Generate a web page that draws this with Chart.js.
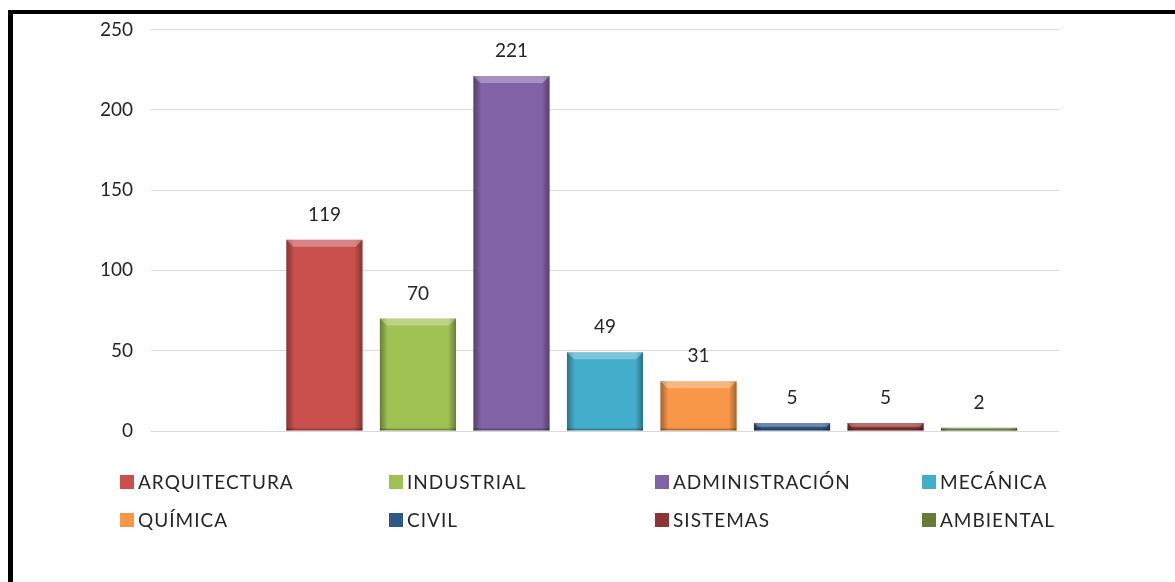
<!DOCTYPE html>
<html>
<head>
<meta charset="utf-8">
<script src="https://cdn.jsdelivr.net/npm/chart.js@4/dist/chart.umd.min.js"></script>
<style>
  html, body { margin: 0; padding: 0; background: #fff; }
  #wrap { position: relative; width: 1175px; height: 582px; overflow: hidden; }
  #frame { position: absolute; left: 8px; top: 10px; width: 1300px; height: 700px;
           border-top: 4px solid #000; border-left: 5px solid #000; box-sizing: border-box; }
  canvas { position: absolute; left: 0; top: 0; }
  .lg { position: absolute; font-family: Lato, "Open Sans", sans-serif; font-size: 19px;
        letter-spacing: 1px; color: #262626; white-space: nowrap; line-height: 20px; }
  .lg i { position: absolute; left: 0; top: 3px; width: 14px; height: 14px; }
  .lg span { position: absolute; left: 18px; top: 0; }
</style>
</head>
<body>
<div id="wrap">
  <div id="frame"></div>
  <canvas id="c" width="1175" height="582"></canvas>
  <div id="legend"></div>
</div>
<script>
// ---- data ----
const categories = ["ARQUITECTURA", "INDUSTRIAL", "ADMINISTRACIÓN", "MECÁNICA", "QUÍMICA", "CIVIL", "SISTEMAS", "AMBIENTAL"];
const values = [119, 70, 221, 49, 31, 5, 5, 2];
const colors = ["#C9504C", "#9FC152", "#8063A6", "#44ADCB", "#F79747", "#2F5889", "#8E3533", "#677B37"];
const yTicks = [0, 50, 100, 150, 200, 250];

// Excel layout: first (blue) series is empty
const datasets = [{ label: "", data: [null], backgroundColor: "#4F81BD" }].concat(
  categories.map((c, i) => ({ label: c, data: [values[i]], backgroundColor: colors[i] }))
);

const FONT = 'Lato, "Open Sans", sans-serif';

const bevel = {
  id: 'bevel',
  afterDatasetsDraw(chart) {
    const ctx = chart.ctx;
    chart.data.datasets.forEach((ds, di) => {
      const meta = chart.getDatasetMeta(di);
      meta.data.forEach((el, idx) => {
        if (ds.data[idx] == null) return;
        const p = el.getProps(['x', 'y', 'base', 'width'], true);
        const l = p.x - p.width / 2, r = p.x + p.width / 2, t = p.y, b = p.base;
        const h = b - t;
        const bv = Math.min(7, h / 2);
        ctx.save();
        let g = ctx.createLinearGradient(l, 0, l + 8, 0);
        g.addColorStop(0, 'rgba(0,0,0,0.35)'); g.addColorStop(1, 'rgba(0,0,0,0)');
        ctx.fillStyle = g; ctx.fillRect(l, t, 8, h);
        g = ctx.createLinearGradient(r, 0, r - 8, 0);
        g.addColorStop(0, 'rgba(0,0,0,0.35)'); g.addColorStop(1, 'rgba(0,0,0,0)');
        ctx.fillStyle = g; ctx.fillRect(r - 8, t, 8, h);
        ctx.beginPath();
        ctx.moveTo(l, t); ctx.lineTo(r, t); ctx.lineTo(r - bv, t + bv); ctx.lineTo(l + bv, t + bv); ctx.closePath();
        ctx.fillStyle = 'rgba(255,255,255,0.3)'; ctx.fill();
        ctx.fillStyle = 'rgba(0,0,0,0.25)';
        ctx.fillRect(l, b - Math.min(2, h / 3), r - l, Math.min(2, h / 3));
        ctx.restore();
        ctx.save();
        ctx.fillStyle = '#262626';
        ctx.font = '19px ' + FONT;
        ctx.textAlign = 'center';
        ctx.textBaseline = 'middle';
        ctx.fillText(String(ds.data[idx]), p.x, t - 25);
        ctx.restore();
      });
    });
  }
};

new Chart(document.getElementById('c'), {
  type: 'bar',
  data: { labels: [""], datasets },
  options: {
    responsive: false,
    animation: false,
    events: [],
    categoryPercentage: 0.927,
    barPercentage: 0.814,
    layout: { padding: { left: 0, right: 116, top: 29, bottom: 151 } },
    plugins: { legend: { display: false }, tooltip: { enabled: false } },
    scales: {
      x: { display: false },
      y: {
        min: 0, max: 250,
        afterBuildTicks(axis) { axis.ticks = yTicks.map(v => ({ value: v })); },
        afterFit(axis) { axis.width = 151; },
        border: { display: false },
        grid: { color: '#D9D9D9', lineWidth: 1, drawTicks: false },
        ticks: { padding: 18, color: '#262626', font: { family: FONT, size: 19 } }
      }
    }
  },
  plugins: [bevel]
});

// ---- legend (2 rows x 4 columns) ----
const legendEl = document.getElementById('legend');
const colX = [120, 389, 655, 922];
const rowY = [472, 510];
categories.forEach((c, i) => {
  const d = document.createElement('div');
  d.className = 'lg';
  d.style.left = colX[i % 4] + 'px';
  d.style.top = rowY[Math.floor(i / 4)] + 'px';
  d.innerHTML = '<i style="background:' + colors[i] + '"></i><span>' + c + '</span>';
  legendEl.appendChild(d);
});
</script>
</body>
</html>
